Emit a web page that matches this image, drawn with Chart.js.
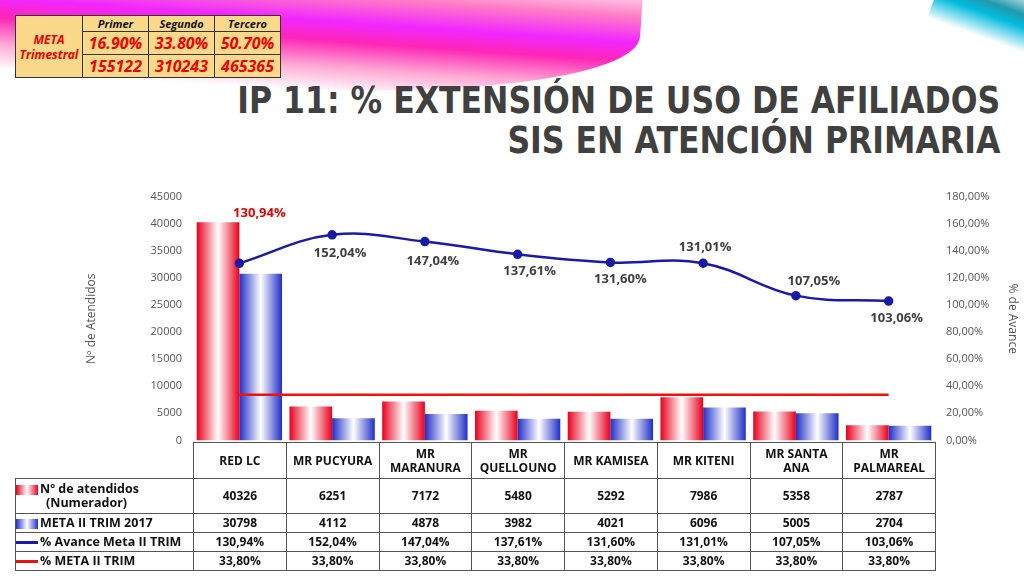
<!DOCTYPE html>
<html><head><meta charset="utf-8">
<script src="https://cdn.jsdelivr.net/npm/chart.js@4.4.0/dist/chart.umd.min.js"></script>
<style>
body{margin:0;width:1024px;height:576px;background:#fff;position:relative;overflow:hidden;font-family:"Open Sans",sans-serif}
.deco{position:absolute;left:-60px;top:-40px;width:700px;height:130px;transform:rotate(4deg);
 background:linear-gradient(180deg,#fff 0%,#f6b 25%,#e0f 45%,#f0a 60%,#f9c 80%,#fff 100%);opacity:.85;border-radius:0 0 60% 0}
.deco2{position:absolute;right:-30px;top:-20px;width:120px;height:60px;transform:rotate(20deg);
 background:linear-gradient(180deg,#fff,#29a 40%,#0bd 60%,#fff)}
#meta{position:absolute;left:15px;top:15px;width:266px;height:60px;border-collapse:collapse;background:#fbd98a;font-family:"Open Sans";font-style:italic;font-weight:bold;color:#e00}
#meta td{border:1px solid #333;text-align:center;padding:0 2px}
#title{position:absolute;right:24px;top:80px;text-align:right;font:bold 38px/40px "DejaVu Sans";color:#404040;transform:scaleX(0.83);transform-origin:right top;white-space:nowrap}
#wrap{position:absolute;left:80px;top:185px;width:944px;height:265px}
#tbl{position:absolute;left:15px;top:442px;border-collapse:collapse;font-family:"Open Sans";font-weight:bold;font-size:12px;color:#111;table-layout:fixed}
#tbl td{border:1px solid #555;text-align:center;padding:0;line-height:14px}
#tbl td.lab{text-align:left;font-size:12.5px}
.sw{display:inline-block;width:22px;height:10px;vertical-align:middle;margin-right:2px}
</style></head><body>
<div class="deco"></div><div class="deco2"></div>
<table id="meta">
<tr><td rowspan="3" style="font-size:12px;width:62px;line-height:15px">META<br>Trimestral</td><td style="color:#111;font-size:11px">Primer</td><td style="color:#111;font-size:11px">Segundo</td><td style="color:#111;font-size:11px">Tercero</td></tr>
<tr><td style="font-size:16px">16.90%</td><td style="font-size:16px">33.80%</td><td style="font-size:16px">50.70%</td></tr>
<tr><td style="font-size:16px">155122</td><td style="font-size:16px">310243</td><td style="font-size:16px">465365</td></tr>
</table>
<div id="title">IP 11: % EXTENSIÓN DE USO DE AFILIADOS<br>SIS EN ATENCIÓN PRIMARIA</div>
<div id="wrap"><canvas id="c"></canvas></div>
<table id="tbl"></table>
<script>
const categories = ['RED LC','MR PUCYURA','MR MARANURA','MR QUELLOUNO','MR KAMISEA','MR KITENI','MR SANTA ANA','MR PALMAREAL'];
const atendidos = [40326,6251,7172,5480,5292,7986,5358,2787];
const metaTrim = [30798,4112,4878,3982,4021,6096,5005,2704];
const avance = [130.94,152.04,147.04,137.61,131.60,131.01,107.05,103.06];
const metaPct = [33.8,33.8,33.8,33.8,33.8,33.8,33.8,33.8];
const headerLabels = [['RED LC'],['MR PUCYURA'],['MR','MARANURA'],['MR','QUELLOUNO'],['MR KAMISEA'],['MR KITENI'],['MR SANTA','ANA'],['MR','PALMAREAL']];
// label offsets for the % labels, relative to each point
const labelOffsets = [[20,-50],[8,18],[8,20],[12,17],[10,17],[2,-16],[18,-14],[8,17]];
const catPct = 0.92;

const fmt = v => v.toFixed(2).replace('.', ',') + '%';

// horizontal colour-white-colour gradient per bar, located from the x scale
function grad(ctx, c1, side) {
	const ch = ctx.chart, sx = ch.scales.x;
	if (!ch.chartArea || !sx || ctx.dataIndex === undefined) return c1;
	const w = sx.width / categories.length * catPct / 2;
	const cx = sx.getPixelForValue(ctx.dataIndex);
	const x0 = side < 0 ? cx - w : cx;
	const g = ch.ctx.createLinearGradient(x0, 0, x0 + w, 0);
	g.addColorStop(0, c1); g.addColorStop(0.5, '#ffffff'); g.addColorStop(1, c1);
	return g;
}

const pctLabels = {
	id: 'pctLabels',
	afterDatasetsDraw(chart) {
		const meta = chart.getDatasetMeta(2), c = chart.ctx;
		c.save();
		c.font = 'bold 13px "Open Sans"';
		c.textAlign = 'center'; c.textBaseline = 'middle';
		meta.data.forEach((p, i) => {
			c.fillStyle = i === 0 ? '#e00000' : '#404040';
			c.fillText(fmt(avance[i]), p.x + labelOffsets[i][0], p.y + labelOffsets[i][1]);
		});
		c.restore();
	}
};

new Chart(document.getElementById('c'), {
	data: {
		labels: categories,
		datasets: [
			{type: 'bar', data: atendidos, backgroundColor: (ctx) => grad(ctx, '#e8001c', -1), yAxisID: 'y', categoryPercentage: catPct, barPercentage: 1, order: 3},
			{type: 'bar', data: metaTrim, backgroundColor: (ctx) => grad(ctx, '#1f2fc8', 1), yAxisID: 'y', categoryPercentage: catPct, barPercentage: 1, order: 3},
			{type: 'line', data: avance, yAxisID: 'y2', borderColor: '#1a1aa8', backgroundColor: '#1a1aa8', borderWidth: 2.5, tension: 0.4, pointRadius: 3.5, order: 1},
			{type: 'line', data: metaPct, yAxisID: 'y2', borderColor: '#ee1111', borderWidth: 2.5, pointRadius: 0, order: 2}
		]
	},
	options: {
		responsive: true, maintainAspectRatio: false, animation: false,
		layout: {padding: {top: 12, bottom: 8}},
		plugins: {legend: {display: false}, tooltip: {enabled: false}},
		scales: {
			x: {display: false},
			y: {
				position: 'left', min: 0, max: 45000,
				ticks: {stepSize: 5000, color: '#555', font: {size: 11, family: 'Open Sans'}, callback: (v) => String(v)},
				grid: {display: false}, border: {display: false},
				title: {display: true, text: 'Nº de Atendidos', color: '#555', font: {size: 12, family: 'Open Sans'}},
				afterFit: (s) => { s.width = 113; }
			},
			y2: {
				position: 'right', min: 0, max: 180,
				ticks: {stepSize: 20, color: '#555', font: {size: 11, family: 'Open Sans'}, callback: (v) => v.toFixed(2).replace('.', ',') + '%'},
				grid: {display: false}, border: {display: false},
				title: {display: true, text: '% de Avance', color: '#555', font: {size: 12, family: 'Open Sans'}},
				afterFit: (s) => { s.width = 89; }
			}
		}
	},
	plugins: [pctLabels]
});

// data table below the chart
const tbl = document.getElementById('tbl');
let h = '<colgroup><col style="width:178px">' + categories.map(() => '<col style="width:92.75px">').join('') + '</colgroup>';
h += '<tr style="height:36px"><td style="border:none"></td>' + headerLabels.map(l => '<td>' + l.join('<br>') + '</td>').join('') + '</tr>';
h += '<tr style="height:35px"><td class="lab"><span class="sw" style="background:linear-gradient(90deg,#e8001c,#fff,#e8001c)"></span>Nº de atendidos<br><span style="padding-left:30px">(Numerador)</span></td>' + atendidos.map(v => '<td>' + v + '</td>').join('') + '</tr>';
h += '<tr style="height:19px"><td class="lab"><span class="sw" style="background:linear-gradient(90deg,#1f2fc8,#fff,#1f2fc8)"></span>META II TRIM 2017</td>' + metaTrim.map(v => '<td>' + v + '</td>').join('') + '</tr>';
h += '<tr style="height:19px"><td class="lab"><span class="sw" style="height:3px;background:#1a1aa8"></span>% Avance Meta II TRIM</td>' + avance.map(v => '<td>' + fmt(v) + '</td>').join('') + '</tr>';
h += '<tr style="height:19px"><td class="lab"><span class="sw" style="height:3px;background:#ee1111"></span>% META II TRIM</td>' + metaPct.map(v => '<td>' + fmt(v) + '</td>').join('') + '</tr>';
tbl.innerHTML = h;
</script>
</body></html>
